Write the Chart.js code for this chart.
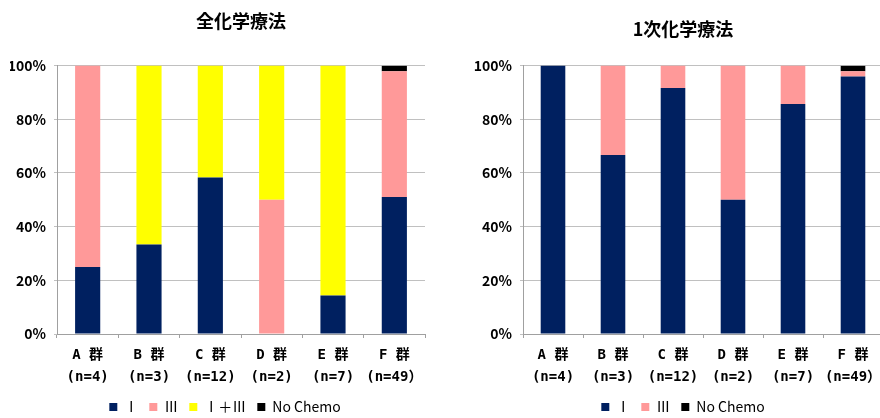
<!DOCTYPE html>
<html>
<head>
<meta charset="utf-8">
<script src="https://cdn.jsdelivr.net/npm/chart.js@4"></script>
<style>
  body { margin: 0; background: #fff; width: 880px; height: 418px; overflow: hidden; position: relative; }
  canvas { position: absolute; top: 0; }
</style>
</head>
<body>
<canvas id="left" width="440" height="424" style="left:0"></canvas>
<canvas id="right" width="486" height="424" style="left:440px"></canvas>
<script>
const groups = ['A 群', 'B 群', 'C 群', 'D 群', 'E 群', 'F 群'];
const counts = ['(n=4)', '(n=3)', '(n=12)', '(n=2)', '(n=7)', '(n=49）'];
const yTicks = [0, 20, 40, 60, 80, 100];

// 全化学療法 (%)
const allI = [25, 33.3, 58.3, 0, 14.3, 51.0];
const allIII = [75, 0, 0, 50, 0, 46.9];
const allIandIII = [0, 66.7, 41.7, 50, 85.7, 0];
const allNoChemo = [0, 0, 0, 0, 0, 2.0];

// 1次化学療法 (%)
const firstI = [100, 66.7, 91.7, 50, 85.7, 95.9];
const firstIII = [0, 33.3, 8.3, 50, 14.3, 2.0];
const firstNoChemo = [0, 0, 0, 0, 0, 2.0];

const NAVY = '#002060', PINK = '#ff9999', YELLOW = '#ffff00', BLACK = '#000000';
const FONT = '"Noto Sans CJK JP", "Noto Sans", sans-serif';
const MONO = '"DejaVu Sans Mono", "Noto Sans CJK JP", monospace';

Chart.defaults.font.family = FONT;
Chart.defaults.color = '#000';

const labels = groups.map((g, i) => [g, counts[i]]);

function ds(label, data, color) {
  return { label, data, backgroundColor: color, borderWidth: 0, barPercentage: 1, categoryPercentage: 0.41 };
}

// pad: layout padding, yWidth: left axis width, spacer: empty right box so the
// legend/title can be centred a bit off the plot area like the original
function makeChart(id, title, datasets, pad, yWidth, spacer, titleFull, titlePad) {
  new Chart(document.getElementById(id), {
    type: 'bar',
    data: { labels, datasets },
    options: {
      responsive: false,
      animation: false,
      layout: { padding: { left: pad.left, right: pad.right, top: 0, bottom: 0 } },
      plugins: {
        title: {
          display: true, text: title, fullSize: titleFull,
          font: { size: 18, weight: 'bold' }, color: '#000',
          padding: titlePad
        },
        legend: {
          position: 'bottom',
          labels: { boxWidth: 8, boxHeight: 8, padding: 11, font: { size: 14 }, color: '#000' }
        },
        tooltip: { enabled: false }
      },
      scales: {
        x: {
          stacked: true,
          grid: { display: true, drawOnChartArea: false, tickLength: 4, color: '#a0a0a0', offset: true },
          border: { color: '#a0a0a0' },
          ticks: { font: { family: MONO, size: 14, weight: 'bold', lineHeight: 1.57 }, padding: 6, maxRotation: 0 },
          afterFit: s => { s.height = 55; }
        },
        y: {
          stacked: true, min: 0, max: 100,
          afterBuildTicks: s => { s.ticks = yTicks.map(v => ({ value: v })); },
          grid: { color: '#c0c0c0', tickLength: 3 },
          border: { color: '#a0a0a0' },
          ticks: { font: { size: 14, weight: 'bold' }, padding: 8, callback: v => v + '%' },
          afterFit: s => { s.width = yWidth; }
        },
        spacer: {
          type: 'linear', position: 'right',
          grid: { display: false }, border: { display: false }, ticks: { display: false },
          afterFit: s => { s.width = spacer; }
        }
      }
    }
  });
}

makeChart('left', '全化学療法', [
  ds('Ⅰ', allI, NAVY),
  ds('Ⅲ', allIII, PINK),
  ds('Ⅰ＋Ⅲ', allIandIII, YELLOW),
  ds('No Chemo', allNoChemo, BLACK)
], { left: 10, right: 0 }, 47, 15, false, { top: 10, bottom: 34 });

makeChart('right', '1次化学療法', [
  ds('Ⅰ', firstI, NAVY),
  ds('Ⅲ', firstIII, PINK),
  ds('No Chemo', firstNoChemo, BLACK)
], { left: 30, right: 30 }, 53, 13, true, { top: 18, bottom: 26 });
</script>
</body>
</html>
